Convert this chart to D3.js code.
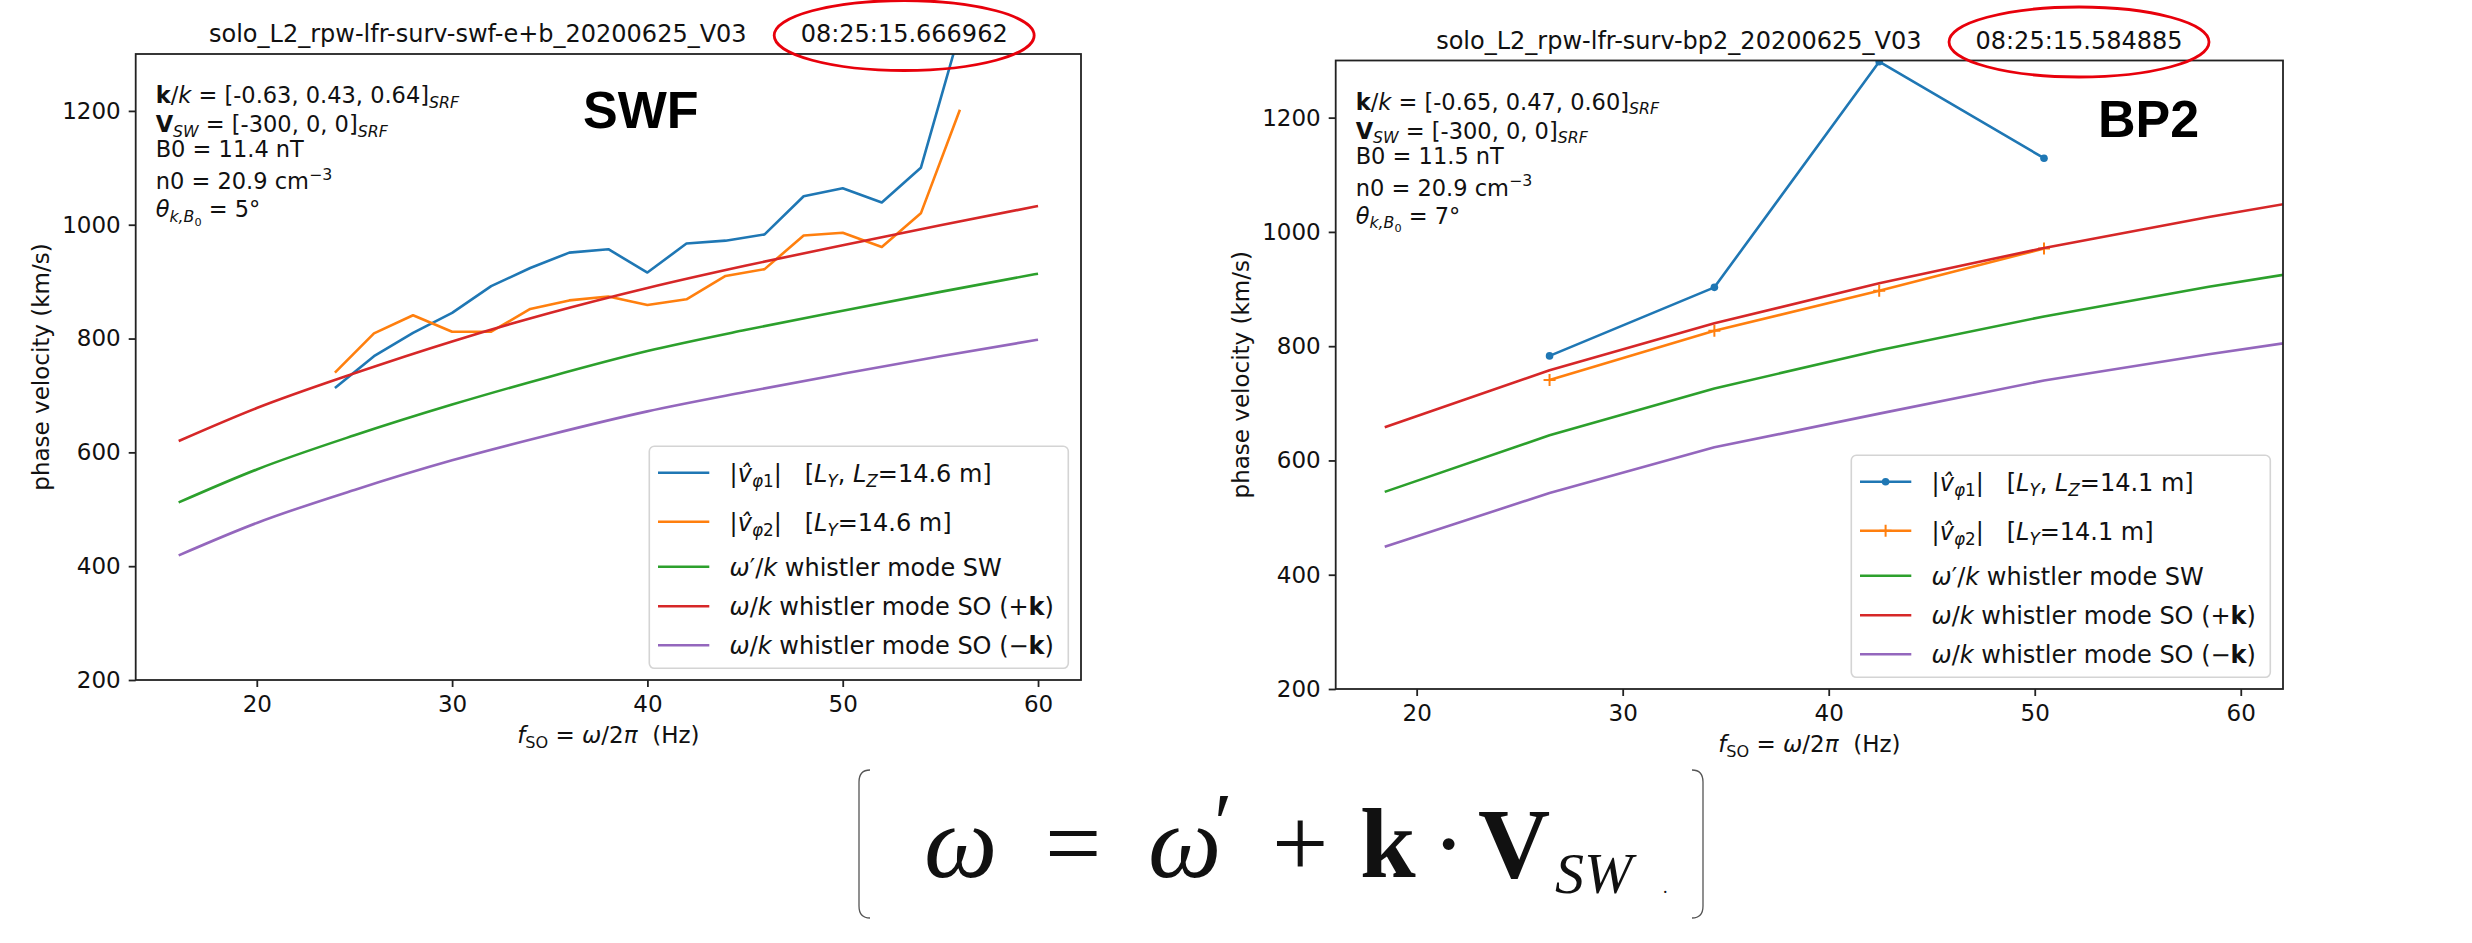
<!DOCTYPE html>
<html lang='en'>
  <head>
    <meta charset='utf-8'>
    <style type='text/css'>
      body { margin: 0; background-color: #fff; }
      text { font-family: 'DejaVu Sans', sans-serif; fill: #111; white-space: pre; }
      .big { font-family: 'Liberation Sans', Arial, sans-serif; font-weight: bold; fill: #000; }
      .formula text { font-family: 'Liberation Serif', 'Times New Roman', serif; fill: #111; }
    </style>
  </head>
  <body>
    <script src='https://d3js.org/d3.v7.min.js'></script>
    <script type='text/javascript'>
        // ---- data ----
        var xTicks = [20, 30, 40, 50, 60];
        var yTicks = [200, 400, 600, 800, 1000, 1200];

        // SWF panel
        var swfFreq = [24, 26, 28, 30, 32, 34, 36, 38, 40, 42, 44, 46, 48, 50, 52, 54, 56];
        var swfV1   = [713, 769, 810, 845, 892, 924, 951, 957, 916, 967, 972, 983, 1050, 1064, 1039, 1100, 1340];
        var swfV2   = [740, 809, 841, 812, 812, 852, 867, 874, 859, 869, 910, 922, 981, 986, 961, 1020, 1202];
        var swfModeFreq = [16, 20, 25, 30, 35, 40, 45, 50, 55, 60];
        var swfSW      = [512, 570, 630, 684, 733, 778, 815, 849, 882, 914];
        var swfSOplus  = [620, 678, 739, 795, 845, 889, 928, 964, 999, 1033];
        var swfSOminus = [419, 476, 534, 586, 631, 672, 706, 738, 769, 798];

        // BP2 panel
        var bp2Freq = [26.45, 34.45, 42.45, 50.45];
        var bp2V1   = [783, 903, 1298, 1129];
        var bp2V2   = [741, 827, 897, 971];
        var bp2ModeFreq = [18.45, 26.45, 34.45, 42.45, 50.45, 58.45, 66.45];
        var bp2SW      = [545, 644, 726, 793, 852, 904, 950];
        var bp2SOplus  = [658, 758, 840, 910, 972, 1026, 1076];
        var bp2SOminus = [449, 543, 623, 682, 740, 786, 828];

        var blue = '#1f77b4', orange = '#ff7f0e', green = '#2ca02c', red = '#d62728', purple = '#9467bd';

        var svg = d3.select('body').append('svg')
            .attr('width', 2472).attr('height', 943);
        svg.append('rect').attr('width', 2472).attr('height', 943).attr('fill', '#fff');

        // mixed text: parts are [string, flags]
        function rich(t, parts, size) {
            var shift = 0;
            parts.forEach(function(p) {
                var f = (p[1] || '').split(' ');
                var off = 0, fs = size;
                if (f.indexOf('sub') >= 0) { off = 0.2 * size; fs = 0.7 * size; }
                if (f.indexOf('sup') >= 0) { off = -0.42 * size; fs = 0.7 * size; }
                if (f.indexOf('sub2') >= 0) { off = 0.38 * size; fs = 0.5 * size; }
                var s = t.append('tspan').text(p[0])
                    .attr('dy', off - shift).style('font-size', fs + 'px');
                shift = off;
                if (f.indexOf('i') >= 0) s.style('font-style', 'italic');
                if (f.indexOf('b') >= 0) s.style('font-weight', 'bold');
            });
        }

        function legendLabels(L) {
            return [
                [['|',''],['v\u0302','i'],['\u03c6','i sub'],['1','sub'],['|',''],['   [',''],['L','i'],['Y','i sub'],[', ',''],['L','i'],['Z','i sub'],['=' + L + ' m]','']],
                [['|',''],['v\u0302','i'],['\u03c6','i sub'],['2','sub'],['|',''],['   [',''],['L','i'],['Y','i sub'],['=' + L + ' m]','']],
                [['\u03c9','i'],['\u2032',''],['/',''],['k','i'],[' whistler mode SW','']],
                [['\u03c9','i'],['/',''],['k','i'],[' whistler mode SO (+',''],['k','b'],[')','']],
                [['\u03c9','i'],['/',''],['k','i'],[' whistler mode SO (\u2212',''],['k','b'],[')','']]
            ];
        }

        function annotLines(kv, b0, theta) {
            return [
                [['k','b'],['/',''],['k','i'],[' = [' + kv + ']',''],['SRF','i sub']],
                [['V','b'],['SW','i sub'],[' = [-300, 0, 0]',''],['SRF','i sub']],
                [['B0 = ' + b0 + ' nT','']],
                [['n0 = 20.9 cm',''],['\u22123','sup']],
                [['\u03b8','i'],['k,B','i sub'],['0','sub2'],[' = ' + theta + '\u00b0','']]
            ];
        }

        var panels = [
            { id: 'swf', x0: 135.7, x1: 1081, y0: 54, y1: 680, xDomain: [13.8, 62.2],
              title: 'solo_L2_rpw-lfr-surv-swf-e+b_20200625_V03', time: '08:25:15.666962',
              big: 'SWF', bigX: 583, bigY: 128, modeCurve: d3.curveMonotoneX,
              series: [
                  { f: swfFreq, v: swfV1, c: blue },
                  { f: swfFreq, v: swfV2, c: orange },
                  { f: swfModeFreq, v: swfSW, c: green, mode: true },
                  { f: swfModeFreq, v: swfSOplus, c: red, mode: true },
                  { f: swfModeFreq, v: swfSOminus, c: purple, mode: true }
              ],
              legend: legendLabels('14.6'),
              annot: annotLines('-0.63, 0.43, 0.64', '11.4', '5') },
            { id: 'bp2', x0: 1335.7, x1: 2283, y0: 60.5, y1: 689, xDomain: [16.07, 62.05],
              title: 'solo_L2_rpw-lfr-surv-bp2_20200625_V03', time: '08:25:15.584885',
              big: 'BP2', bigX: 2098, bigY: 137, modeCurve: d3.curveLinear,
              series: [
                  { f: bp2Freq, v: bp2V1, c: blue, m: 'dot' },
                  { f: bp2Freq, v: bp2V2, c: orange, m: 'plus' },
                  { f: bp2ModeFreq, v: bp2SW, c: green, mode: true },
                  { f: bp2ModeFreq, v: bp2SOplus, c: red, mode: true },
                  { f: bp2ModeFreq, v: bp2SOminus, c: purple, mode: true }
              ],
              legend: legendLabels('14.1'),
              annot: annotLines('-0.65, 0.47, 0.60', '11.5', '7') }
        ];

        function marker(g, kind, cx, cy, color) {
            if (kind === 'dot') {
                g.append('circle').attr('cx', cx).attr('cy', cy).attr('r', 3.8).attr('fill', color);
            } else if (kind === 'plus') {
                g.append('path').attr('d', 'M' + (cx - 6) + ',' + cy + 'H' + (cx + 6) + 'M' + cx + ',' + (cy - 6) + 'V' + (cy + 6))
                    .attr('stroke', color).attr('stroke-width', 2);
            }
        }

        panels.forEach(function(p) {
            var x = d3.scaleLinear().domain(p.xDomain).range([p.x0, p.x1]);
            var y = d3.scaleLinear().domain([200, 1300]).range([p.y1, p.y0]);
            var g = svg.append('g');

            svg.append('clipPath').attr('id', 'clip-' + p.id)
              .append('rect').attr('x', p.x0).attr('y', p.y0)
                .attr('width', p.x1 - p.x0).attr('height', p.y1 - p.y0);

            var plot = g.append('g').attr('clip-path', 'url(#clip-' + p.id + ')');
            p.series.forEach(function(s) {
                var pts = s.f.map(function(f, i) { return [f, s.v[i]]; });
                var line = d3.line().x(function(d) { return x(d[0]); }).y(function(d) { return y(d[1]); })
                    .curve(s.mode ? p.modeCurve : d3.curveLinear);
                plot.append('path').attr('d', line(pts))
                    .attr('fill', 'none').attr('stroke', s.c).attr('stroke-width', 2.6)
                    .attr('stroke-linejoin', 'round');
                if (s.m) pts.forEach(function(d) { marker(plot, s.m, x(d[0]), y(d[1]), s.c); });
            });

            // axes
            var xa = g.append('g').attr('transform', 'translate(0,' + p.y1 + ')')
                .call(d3.axisBottom(x).tickValues(xTicks).tickFormat(d3.format('d'))
                    .tickSize(7).tickPadding(9).tickSizeOuter(0));
            var ya = g.append('g').attr('transform', 'translate(' + p.x0 + ',0)')
                .call(d3.axisLeft(y).tickValues(yTicks).tickFormat(d3.format('d'))
                    .tickSize(7).tickPadding(8).tickSizeOuter(0));
            [xa, ya].forEach(function(a) {
                a.select('.domain').remove();
                a.selectAll('line').attr('stroke', '#222').attr('stroke-width', 1.8);
                a.selectAll('text').attr('fill', '#111').style('font-size', '23px')
                    .style('font-family', "'DejaVu Sans', sans-serif");
            });
            g.append('rect').attr('x', p.x0).attr('y', p.y0)
                .attr('width', p.x1 - p.x0).attr('height', p.y1 - p.y0)
                .attr('fill', 'none').attr('stroke', '#222').attr('stroke-width', 1.8);

            // axis labels
            g.append('text')
                .attr('transform', 'translate(' + (p.x0 - 95) + ',' + ((p.y0 + p.y1) / 2) + ') rotate(-90)')
                .attr('text-anchor', 'middle').attr('dy', '0.35em').style('font-size', '23px')
                .text('phase velocity (km/s)');
            var xl = g.append('text').attr('x', (p.x0 + p.x1) / 2).attr('y', p.y1 + 63)
                .attr('text-anchor', 'middle').style('font-size', '23px');
            rich(xl, [['f','i'],['SO','sub'],[' = ',''],['\u03c9','i'],['/2',''],['\u03c0','i'],['  (Hz)','']], 23);

            // title + time stamp
            var tb = p.y0 - 12;
            var tt = g.append('text').attr('y', tb).style('font-size', '24px').text(p.title);
            var ts = g.append('text').attr('y', tb).style('font-size', '24px').text(p.time);
            var gap = 54;
            var w1 = tt.node().getComputedTextLength(), w2 = ts.node().getComputedTextLength();
            var start = (p.x0 + p.x1) / 2 - (w1 + gap + w2) / 2;
            tt.attr('x', start);
            ts.attr('x', start + w1 + gap);
            g.append('ellipse').attr('cx', start + w1 + gap + w2 / 2).attr('cy', tb - 6.5)
                .attr('rx', 130).attr('ry', 35)
                .attr('fill', 'none').attr('stroke', '#e8000b').attr('stroke-width', 2.8);

            // parameter block
            var aOff = [49, 78, 103, 135, 163];
            p.annot.forEach(function(parts, i) {
                var t = g.append('text').attr('x', p.x0 + 20).attr('y', p.y0 + aOff[i]).style('font-size', '22.5px');
                rich(t, parts, 22.5);
            });

            g.append('text').attr('class', 'big').attr('x', p.bigX).attr('y', p.bigY)
                .style('font-size', '52px').text(p.big);

            // legend
            var lw = 419, lh = 222;
            var lx = p.x1 - 12.7 - lw, ly = p.y1 - 11.7 - lh;
            var lg = g.append('g');
            lg.append('rect').attr('x', lx).attr('y', ly).attr('width', lw).attr('height', lh)
                .attr('rx', 5).attr('fill', '#fff').attr('fill-opacity', 0.8)
                .attr('stroke', '#d4d4d4').attr('stroke-width', 1.6);
            var rows = [26.5, 75.5, 120.5, 160, 199];
            p.legend.forEach(function(parts, i) {
                var s = p.series[i], ry = ly + rows[i];
                lg.append('line').attr('x1', lx + 8.7).attr('x2', lx + 60).attr('y1', ry).attr('y2', ry)
                    .attr('stroke', s.c).attr('stroke-width', 2.6);
                if (s.m) marker(lg, s.m, lx + 34.3, ry, s.c);
                var t = lg.append('text').attr('x', lx + 80.3).attr('y', ry + 9).style('font-size', '24px');
                rich(t, parts, 24);
            });
        });

        // formula box at the bottom
        var fg = svg.append('g').attr('class', 'formula');
        fg.append('path').attr('d', 'M870,770 Q859,770 859,782 V906 Q859,918 870,918')
            .attr('fill', 'none').attr('stroke', '#555').attr('stroke-width', 1.3);
        fg.append('path').attr('d', 'M1692,770 Q1703,770 1703,782 V906 Q1703,918 1692,918')
            .attr('fill', 'none').attr('stroke', '#555').attr('stroke-width', 1.3);
        var fparts = [
            { t: '\u03c9', x: 924, y: 877, s: 104, st: 'italic' },
            { t: '=', x: 1045, y: 877, s: 100 },
            { t: '\u03c9', x: 1148, y: 877, s: 104, st: 'italic' },
            { t: '\u2032', x: 1214, y: 852, s: 84 },
            { t: '+', x: 1272, y: 877, s: 100 },
            { t: 'k', x: 1360, y: 877, s: 100, w: 'bold' },
            { t: '\u00b7', x: 1432, y: 877, s: 100 },
            { t: 'V', x: 1478, y: 877, s: 100, w: 'bold' },
            { t: 'SW', x: 1555, y: 893, s: 58, st: 'italic' },
            { t: '.', x: 1663, y: 893, s: 18 }
        ];
        fparts.forEach(function(d) {
            fg.append('text').attr('x', d.x).attr('y', d.y).style('font-size', d.s + 'px')
                .style('font-style', d.st || 'normal').style('font-weight', d.w || 'normal')
                .attr('fill', d.t === '.' ? '#999' : '#111').text(d.t);
        });
    </script>
  </body>
</html>
